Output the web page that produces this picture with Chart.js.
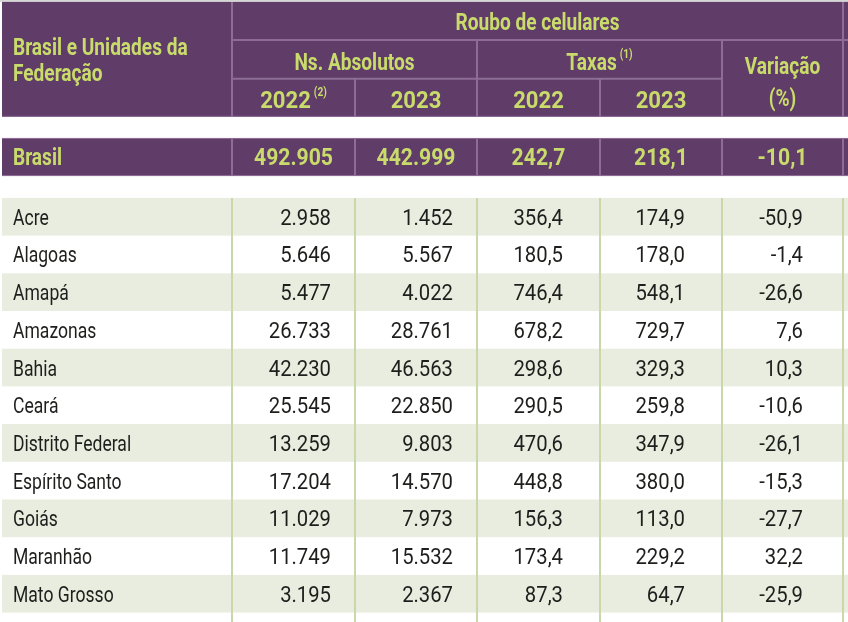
<!DOCTYPE html>
<html lang="pt-BR">
<head>
<meta charset="utf-8">
<title>Roubo de celulares</title>
<script src="https://cdn.jsdelivr.net/npm/chart.js@4.4.1/dist/chart.umd.min.js"></script>
<style>
  html, body { margin: 0; padding: 0; background: #fff; }
  #tabela { display: block; }
</style>
</head>
<body>
<canvas id="tabela" width="848" height="622"></canvas>
<script>
// Dados da tabela: roubo de celulares por UF
const estados = ['Acre', 'Alagoas', 'Amapá', 'Amazonas', 'Bahia', 'Ceará',
  'Distrito Federal', 'Espírito Santo', 'Goiás', 'Maranhão', 'Mato Grosso'];
const absolutos2022 = [2958, 5646, 5477, 26733, 42230, 25545, 13259, 17204, 11029, 11749, 3195];
const absolutos2023 = [1452, 5567, 4022, 28761, 46563, 22850, 9803, 14570, 7973, 15532, 2367];
const taxas2022 = [356.4, 180.5, 746.4, 678.2, 298.6, 290.5, 470.6, 448.8, 156.3, 173.4, 87.3];
const taxas2023 = [174.9, 178.0, 548.1, 729.7, 329.3, 259.8, 347.9, 380.0, 113.0, 229.2, 64.7];
const variacao = [-50.9, -1.4, -26.6, 7.6, 10.3, -10.6, -26.1, -15.3, -27.7, 32.2, -25.9];
const brasil = [492905, 442999, 242.7, 218.1, -10.1];
const anos = ['2022', '2023'];

// Cores
const ROXO = '#603d68';
const LIMA = '#c9dc6b';
const LINHA_ROXA = '#8d6c95';
const FAIXA = '#e9eddf';
const LINHA_VERDE = '#cad7a9';
const TEXTO = '#1e1e1c';

// Layout (x em px do eixo, y em alturas de linha)
const BORDAS = [2, 232, 355, 477, 600, 722, 843, 848];
const Y_CAB = [0.05, 1.06, 2.09, 3.1];
const Y_BRASIL = [3.66, 4.67];
const Y_DADOS = 5.25;
const ANCORAS = [331, 453, 563, 685, 803];

const fmtInt = v => String(v).replace(/\B(?=(\d{3})+(?!\d))/g, '.');
const fmtDec = v => v.toFixed(1).replace('.', ',');
const colunas = [
  { valores: absolutos2022, fmt: fmtInt },
  { valores: absolutos2023, fmt: fmtInt },
  { valores: taxas2022, fmt: fmtDec },
  { valores: taxas2023, fmt: fmtDec },
  { valores: variacao, fmt: fmtDec }
];
const fmtBrasil = [fmtInt, fmtInt, fmtDec, fmtDec, fmtDec];

const FAMILIA = 'Roboto, "Liberation Sans", sans-serif';

// texto com fonte "condensada" (escala horizontal), y = centro da altura das maiúsculas
function texto(ctx, str, x, yCentro, opts) {
  const tam = opts.size;
  ctx.save();
  ctx.font = (opts.bold ? 'bold ' : '') + tam + 'px ' + FAMILIA;
  ctx.fillStyle = opts.color;
  ctx.textAlign = opts.align || 'left';
  ctx.textBaseline = 'alphabetic';
  ctx.translate(x, yCentro + tam * 0.711 / 2);
  ctx.scale(opts.sx || 1, 1);
  ctx.fillText(str, 0, 0);
  ctx.restore();
}
function largura(ctx, str, opts) {
  ctx.save();
  ctx.font = (opts.bold ? 'bold ' : '') + opts.size + 'px ' + FAMILIA;
  const w = ctx.measureText(str).width * (opts.sx || 1);
  ctx.restore();
  return w;
}
// texto centrado com nota sobrescrita
function comNota(ctx, str, nota, xc, yc, opts) {
  const notaOpts = { size: 12, bold: true, color: opts.color, sx: 0.85 };
  const w1 = largura(ctx, str, opts);
  const w2 = largura(ctx, nota, notaOpts);
  const x0 = xc - (w1 + 3 + w2) / 2;
  texto(ctx, str, x0, yc, opts);
  texto(ctx, nota, x0 + w1 + 3, yc - 8, notaOpts);
}

const pluginTabela = {
  id: 'tabela',
  afterDraw(chart) {
    const ctx = chart.ctx;
    const sx = chart.scales.x, sy = chart.scales.y;
    const px = v => sx.getPixelForValue(v);
    const py = v => sy.getPixelForValue(v);
    const esq = px(BORDAS[0]), dir = px(BORDAS[BORDAS.length - 1]);
    const fundo = py(sy.max);

    // linha cinza no topo
    ctx.fillStyle = '#d6d6d6';
    ctx.fillRect(0, py(0), dir, py(Y_CAB[0]) - py(0));

    // cabeçalho
    ctx.fillStyle = ROXO;
    ctx.fillRect(esq, py(Y_CAB[0]), dir - esq, py(Y_CAB[3]) - py(Y_CAB[0]));
    // linha Brasil
    ctx.fillRect(esq, py(Y_BRASIL[0]), dir - esq, py(Y_BRASIL[1]) - py(Y_BRASIL[0]));

    // faixas alternadas
    ctx.fillStyle = FAIXA;
    estados.forEach((e, i) => {
      if (i % 2 === 0) {
        ctx.fillRect(esq, py(Y_DADOS + i), dir - esq, py(Y_DADOS + i + 1) - py(Y_DADOS + i));
      }
    });

    // linhas do cabeçalho
    ctx.strokeStyle = LINHA_ROXA;
    ctx.lineWidth = 2;
    const seg = (x1, y1, x2, y2) => {
      ctx.beginPath(); ctx.moveTo(x1, y1); ctx.lineTo(x2, y2); ctx.stroke();
    };
    seg(px(BORDAS[1]), py(Y_CAB[1]), dir, py(Y_CAB[1]));
    seg(px(BORDAS[1]), py(Y_CAB[2]), px(BORDAS[5]), py(Y_CAB[2]));
    [1, 6].forEach(k => seg(px(BORDAS[k]), py(Y_CAB[0]), px(BORDAS[k]), py(Y_CAB[3])));
    [3, 5].forEach(k => seg(px(BORDAS[k]), py(Y_CAB[1]), px(BORDAS[k]), py(Y_CAB[3])));
    [2, 4].forEach(k => seg(px(BORDAS[k]), py(Y_CAB[2]), px(BORDAS[k]), py(Y_CAB[3])));
    for (let k = 1; k <= 6; k++) seg(px(BORDAS[k]), py(Y_BRASIL[0]), px(BORDAS[k]), py(Y_BRASIL[1]));
    ctx.lineWidth = 1;
    [py(Y_CAB[3]) - 0.5, py(Y_BRASIL[0]) + 0.5, py(Y_BRASIL[1]) - 0.5].forEach(y => seg(esq, y, dir, y));

    // linhas verticais dos dados
    ctx.strokeStyle = LINHA_VERDE;
    ctx.lineWidth = 2;
    for (let k = 1; k <= 6; k++) seg(px(BORDAS[k]), py(Y_DADOS), px(BORDAS[k]), fundo);

    // textos do cabeçalho
    const cab = { size: 23, bold: true, color: LIMA, sx: 0.83 };
    const num = { size: 23, bold: true, color: LIMA, sx: 0.92 };
    const meio = (a, b) => (px(BORDAS[a]) + px(BORDAS[b])) / 2;
    texto(ctx, 'Brasil e Unidades da', px(13), py(1.25), cab);
    texto(ctx, 'Federação', px(13), py(1.92), cab);
    texto(ctx, 'Roubo de celulares', meio(1, 6), py(0.58), { ...cab, align: 'center' });
    texto(ctx, 'Ns. Absolutos', meio(1, 3), py(1.63), { ...cab, align: 'center' });
    comNota(ctx, 'Taxas', '(1)', meio(3, 5), py(1.63), cab);
    texto(ctx, 'Variação', meio(5, 6), py(1.75), { ...cab, align: 'center' });
    texto(ctx, '(%)', meio(5, 6), py(2.6), { ...cab, align: 'center' });
    const ano = { ...num, size: 24 };
    comNota(ctx, anos[0], '(2)', meio(1, 2), py(2.65), ano);
    texto(ctx, anos[1], meio(2, 3), py(2.65), { ...ano, align: 'center' });
    texto(ctx, anos[0], meio(3, 4), py(2.65), { ...ano, align: 'center' });
    texto(ctx, anos[1], meio(4, 5), py(2.65), { ...ano, align: 'center' });

    // linha Brasil
    const yb = py((Y_BRASIL[0] + Y_BRASIL[1]) / 2);
    texto(ctx, 'Brasil', px(13), yb, cab);
    brasil.forEach((v, j) => {
      texto(ctx, fmtBrasil[j](v), meio(j + 1, j + 2), yb, { ...num, align: 'center' });
    });

    // linhas das UFs
    const rot = { size: 22.5, color: TEXTO, sx: 0.78 };
    const val = { size: 22.5, color: TEXTO, sx: 0.9, align: 'right' };
    estados.forEach((e, i) => {
      const yc = py(Y_DADOS + i + 0.5);
      texto(ctx, e, px(13), yc, rot);
      colunas.forEach((c, j) => {
        texto(ctx, c.fmt(c.valores[i]), px(ANCORAS[j]), yc, val);
      });
    });
  }
};

const ctx = document.getElementById('tabela');
new Chart(ctx, {
  type: 'scatter',
  data: { datasets: [] },
  options: {
    responsive: false,
    animation: false,
    events: [],
    layout: { padding: 0 },
    scales: {
      x: { type: 'linear', min: 0, max: 848, display: false },
      y: { type: 'linear', min: 0, max: 16.5, reverse: true, display: false }
    },
    plugins: {
      legend: { display: false },
      tooltip: { enabled: false }
    }
  },
  plugins: [pluginTabela]
});
</script>
</body>
</html>
